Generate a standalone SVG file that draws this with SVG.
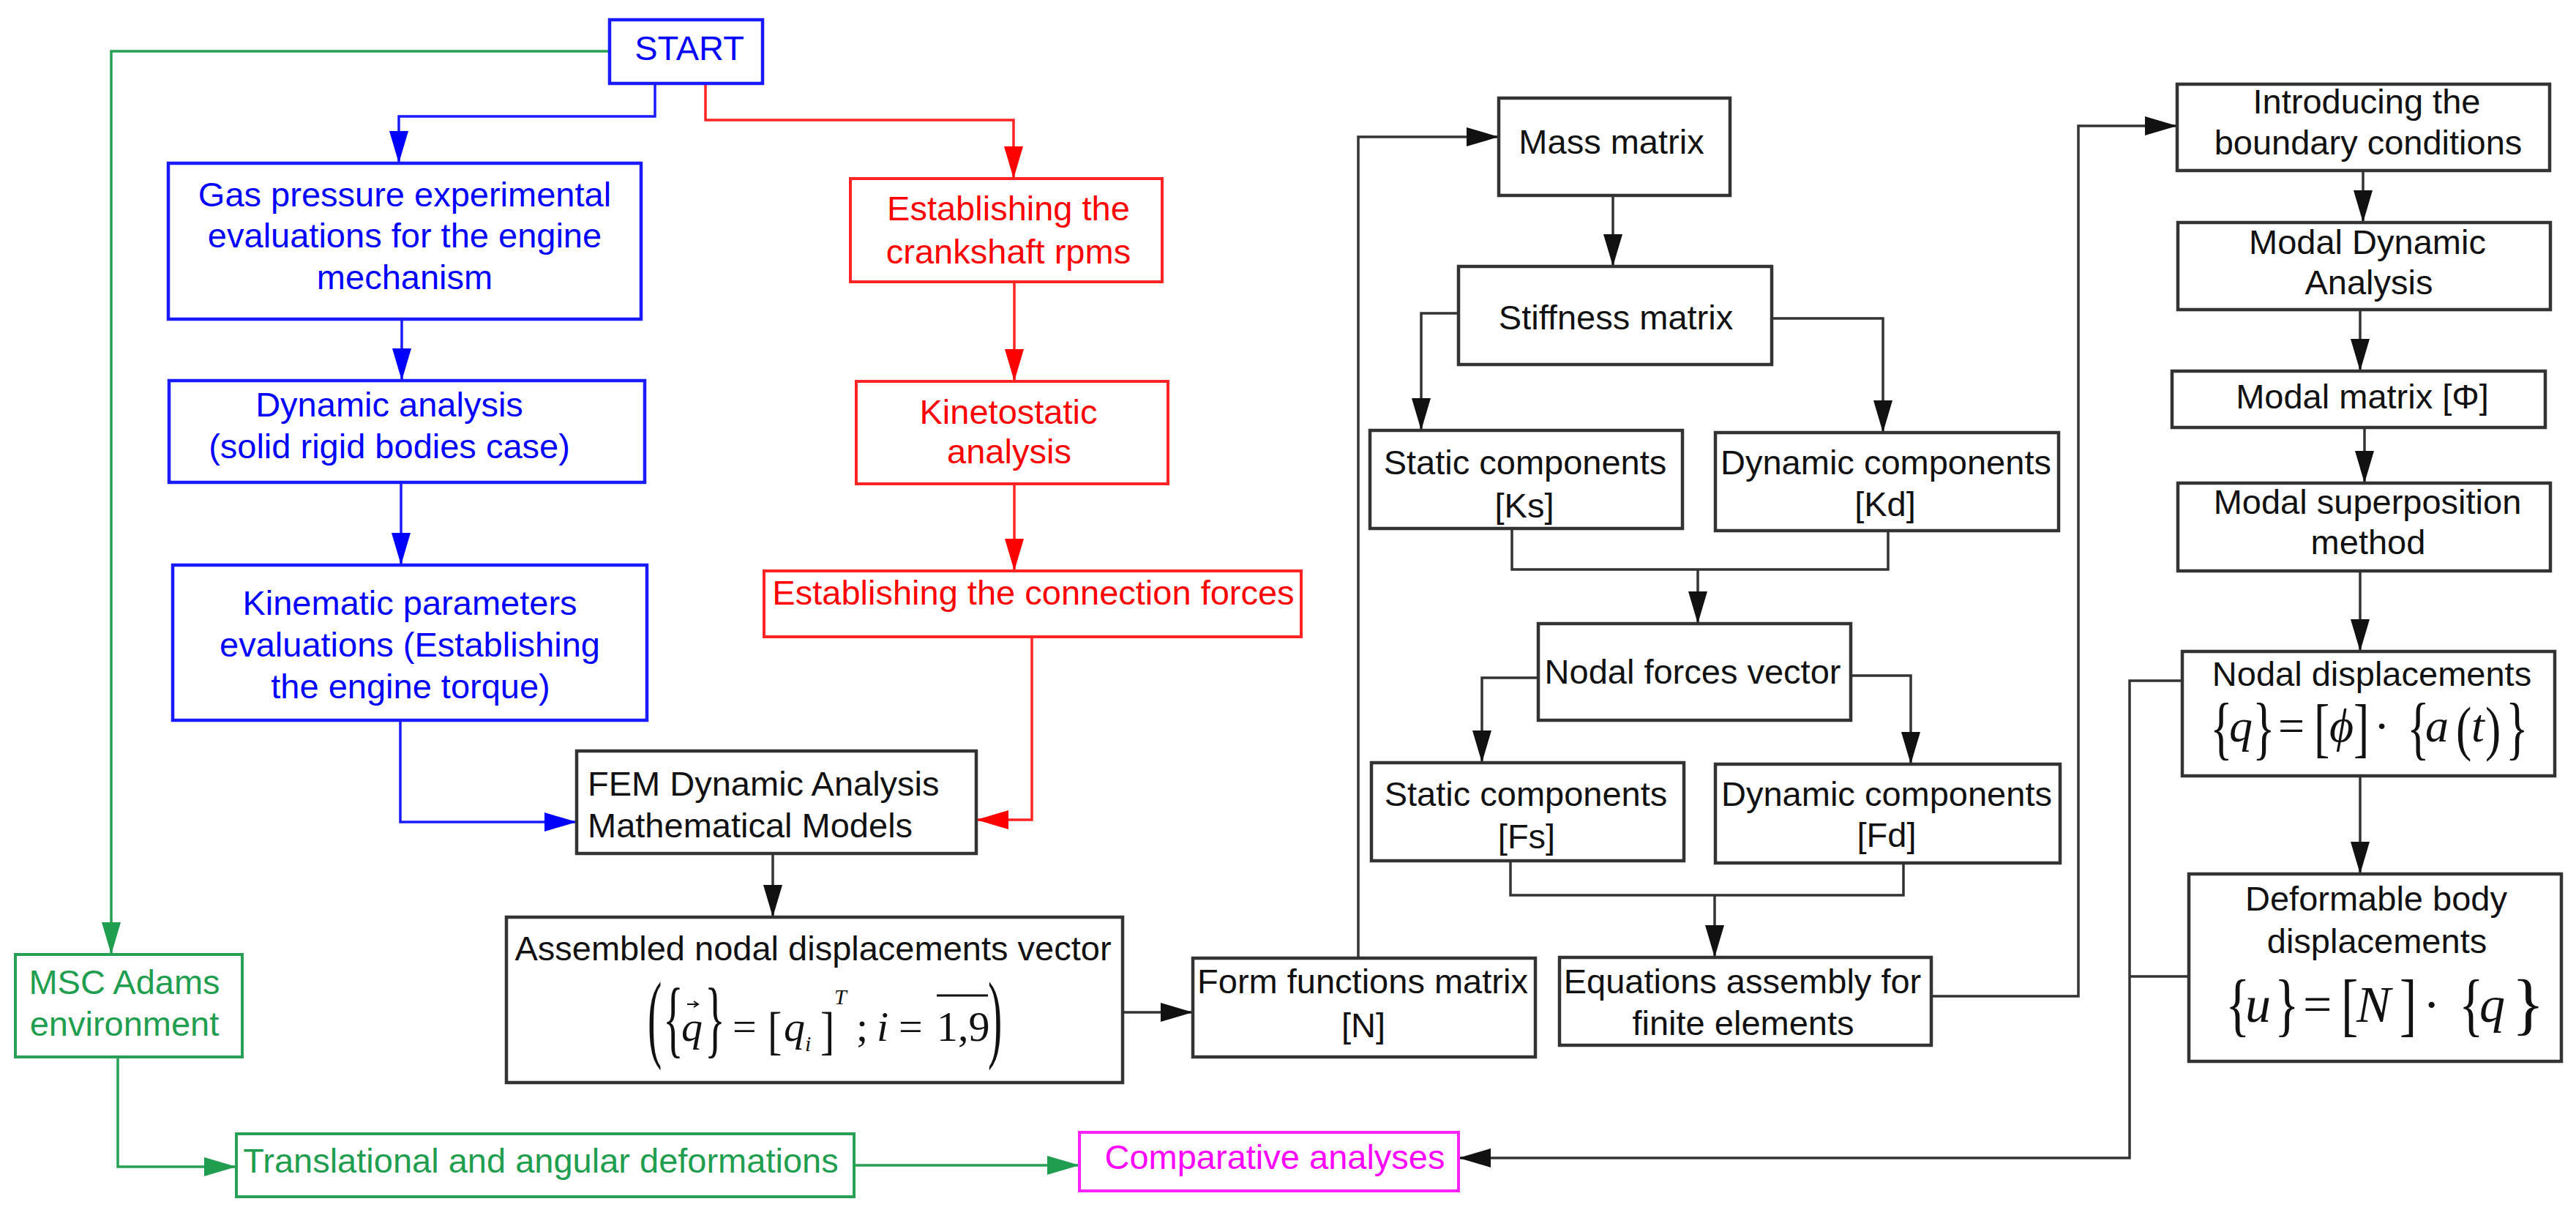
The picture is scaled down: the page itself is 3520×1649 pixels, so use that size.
<svg xmlns="http://www.w3.org/2000/svg" width="3520" height="1649" viewBox="0 0 3520 1649">
<defs>
<style>
.t{font-family:"Liberation Sans",Arial,sans-serif;font-size:47px;text-anchor:middle}
.tl{font-family:"Liberation Sans",Arial,sans-serif;font-size:47px;text-anchor:start}
.b{fill:#0000ff}.r{fill:#ff0000}.g{fill:#1f9e50}.m{fill:#ff00ff}.k{fill:#111}
.bb{fill:#fff;stroke:#1a1aff;stroke-width:4.5}
.rb{fill:#fff;stroke:#ff2424;stroke-width:4}
.gb{fill:#fff;stroke:#27a055;stroke-width:4}
.mb{fill:#fff;stroke:#ff22ff;stroke-width:4}
.kb{fill:#fff;stroke:#333;stroke-width:4.5}
.cb{fill:none;stroke:#1a1aff;stroke-width:3.5}
.cr{fill:none;stroke:#ff2424;stroke-width:3.5}
.cg{fill:none;stroke:#27a055;stroke-width:3.5}
.ck{fill:none;stroke:#333;stroke-width:3.5}
.f{font-family:"Liberation Serif","Times New Roman",serif;fill:#111}
.fi{font-family:"Liberation Serif","Times New Roman",serif;font-style:italic;fill:#111}
</style>
<marker id="ab" markerUnits="userSpaceOnUse" markerWidth="44" markerHeight="26" refX="44" refY="13" orient="auto"><path d="M0,0 L44,13 L0,26 Z" fill="#0000ff"/></marker>
<marker id="ar" markerUnits="userSpaceOnUse" markerWidth="44" markerHeight="26" refX="44" refY="13" orient="auto"><path d="M0,0 L44,13 L0,26 Z" fill="#ff0000"/></marker>
<marker id="ag" markerUnits="userSpaceOnUse" markerWidth="44" markerHeight="26" refX="44" refY="13" orient="auto"><path d="M0,0 L44,13 L0,26 Z" fill="#1f9e50"/></marker>
<marker id="ak" markerUnits="userSpaceOnUse" markerWidth="44" markerHeight="26" refX="44" refY="13" orient="auto"><path d="M0,0 L44,13 L0,26 Z" fill="#111"/></marker>
</defs>
<rect width="3520" height="1649" fill="#fff"/>

<g id="connectors">
<path class="cb" d="M895,114 V159 H545 V223" marker-end="url(#ab)"/>
<path class="cb" d="M549,436 V520" marker-end="url(#ab)"/>
<path class="cb" d="M548,659 V772" marker-end="url(#ab)"/>
<path class="cb" d="M547,984 V1123 H788" marker-end="url(#ab)"/>
<path class="cr" d="M964,114 V164 H1385 V244" marker-end="url(#ar)"/>
<path class="cr" d="M1386,385 V521" marker-end="url(#ar)"/>
<path class="cr" d="M1386,661 V780" marker-end="url(#ar)"/>
<path class="cr" d="M1410,870 V1120 H1334" marker-end="url(#ar)"/>
<path class="cg" d="M833,70 H152 V1304" marker-end="url(#ag)"/>
<path class="cg" d="M161,1444 V1594 H323" marker-end="url(#ag)"/>
<path class="cg" d="M1167,1592 H1475" marker-end="url(#ag)"/>
<path class="ck" d="M1056,1166 V1253" marker-end="url(#ak)"/>
<path class="ck" d="M1534,1383 H1630" marker-end="url(#ak)"/>
<path class="ck" d="M1856,1309 V187 H2048" marker-end="url(#ak)"/>
<path class="ck" d="M2204,267 V364" marker-end="url(#ak)"/>
<path class="ck" d="M1993,428 H1942 V588" marker-end="url(#ak)"/>
<path class="ck" d="M2421,435 H2573 V591" marker-end="url(#ak)"/>
<path class="ck" d="M2066,722 V778 H2580 V725"/>
<path class="ck" d="M2320,778 V852" marker-end="url(#ak)"/>
<path class="ck" d="M2102,926 H2025 V1042" marker-end="url(#ak)"/>
<path class="ck" d="M2529,923 H2611 V1044" marker-end="url(#ak)"/>
<path class="ck" d="M2064,1176 V1223 H2601 V1179"/>
<path class="ck" d="M2343,1223 V1308" marker-end="url(#ak)"/>
<path class="ck" d="M2639,1361 H2840 V172 H2975" marker-end="url(#ak)"/>
<path class="ck" d="M3229,233 V304" marker-end="url(#ak)"/>
<path class="ck" d="M3225,423 V507" marker-end="url(#ak)"/>
<path class="ck" d="M3231,584 V660" marker-end="url(#ak)"/>
<path class="ck" d="M3225,780 V890" marker-end="url(#ak)"/>
<path class="ck" d="M3225,1060 V1194" marker-end="url(#ak)"/>
<path class="ck" d="M2982,930 H2910 V1582 H1993" marker-end="url(#ak)"/>
<path class="ck" d="M2991,1334 H2910"/>
</g>

<g id="start"><rect class="bb" x="833" y="27" width="209" height="87"/><text class="t b" x="942" y="82">START</text></g>

<g id="gas"><rect class="bb" x="230" y="223" width="646" height="213"/>
<text class="t b" x="553" y="282">Gas pressure experimental</text>
<text class="t b" x="553" y="338">evaluations for the engine</text>
<text class="t b" x="553" y="395">mechanism</text></g>

<g id="dynamic"><rect class="bb" x="231" y="520" width="650" height="139"/>
<text class="t b" x="532" y="569">Dynamic analysis</text>
<text class="t b" x="532" y="626">(solid rigid bodies case)</text></g>

<g id="kinematic"><rect class="bb" x="236" y="772" width="648" height="212"/>
<text class="t b" x="560" y="840">Kinematic parameters</text>
<text class="t b" x="560" y="897">evaluations (Establishing</text>
<text class="t b" x="561" y="954">the engine torque)</text></g>

<g id="rpms"><rect class="rb" x="1162" y="244" width="426" height="141"/>
<text class="t r" x="1378" y="301">Establishing the</text>
<text class="t r" x="1378" y="360">crankshaft rpms</text></g>

<g id="kinetostatic"><rect class="rb" x="1170" y="521" width="426" height="140"/>
<text class="t r" x="1378" y="579">Kinetostatic</text>
<text class="t r" x="1379" y="633">analysis</text></g>

<g id="forces"><rect class="rb" x="1044" y="780" width="734" height="90"/>
<text class="t r" x="1412" y="826">Establishing the connection forces</text></g>

<g id="fem"><rect class="kb" x="788" y="1026" width="546" height="140"/>
<text class="tl k" x="803" y="1087">FEM Dynamic Analysis</text>
<text class="tl k" x="803" y="1144">Mathematical Models</text></g>

<g id="assembled"><rect class="kb" x="692" y="1253" width="842" height="226"/>
<text class="t k" x="1111" y="1312">Assembled nodal displacements vector</text>
<text class="f" font-size="58" transform="translate(885,1401) scale(1,2.3)" y="14.5">(</text>
<text class="f" font-size="58" transform="translate(906,1401) scale(1,2.0)" y="14.5">{</text>
<text class="fi" font-size="58" x="931" y="1422">q</text>
<path d="M939,1372 H953 M948,1368 L954,1372 L948,1376" fill="none" stroke="#111" stroke-width="2"/>
<text class="f" font-size="58" transform="translate(963,1401) scale(1,2.0)" y="14.5">}</text>
<text class="f" font-size="58" x="1001" y="1422">=</text>
<text class="f" font-size="58" transform="translate(1049,1414) scale(1,1.25)" y="14.5">[</text>
<text class="fi" font-size="58" x="1071" y="1422">q</text>
<text class="fi" font-size="30" x="1100" y="1436">i</text>
<text class="f" font-size="58" transform="translate(1121,1414) scale(1,1.25)" y="14.5">]</text>
<text class="fi" font-size="30" x="1140" y="1372">T</text>
<text class="f" font-size="58" x="1170" y="1422">;</text>
<text class="fi" font-size="58" x="1198" y="1422">i</text>
<text class="f" font-size="58" x="1228" y="1422">=</text>
<text class="f" font-size="58" x="1280" y="1422">1,9</text>
<path d="M1280,1360 H1350" stroke="#111" stroke-width="3"/>
<text class="f" font-size="58" transform="translate(1350,1401) scale(1,2.3)" y="14.5">)</text></g>

<g id="msc"><rect class="gb" x="21" y="1304" width="310" height="140"/>
<text class="t g" x="170" y="1358">MSC Adams</text>
<text class="t g" x="170" y="1415">environment</text></g>

<g id="translational"><rect class="gb" x="323" y="1549" width="844" height="86"/>
<text class="t g" x="739" y="1602">Translational and angular deformations</text></g>

<g id="comparative"><rect class="mb" x="1475" y="1547" width="518" height="80"/>
<text class="t m" x="1742" y="1597">Comparative analyses</text></g>

<g id="form"><rect class="kb" x="1630" y="1309" width="468" height="135"/>
<text class="t k" x="1862" y="1357">Form functions matrix</text>
<text class="t k" x="1863" y="1417">[N]</text></g>

<g id="mass"><rect class="kb" x="2048" y="134" width="316" height="133"/>
<text class="t k" x="2202" y="210">Mass matrix</text></g>

<g id="stiffness"><rect class="kb" x="1993" y="364" width="428" height="134"/>
<text class="t k" x="2208" y="450">Stiffness matrix</text></g>

<g id="ks"><rect class="kb" x="1872" y="588" width="427" height="134"/>
<text class="t k" x="2084" y="648">Static components</text>
<text class="t k" x="2083" y="707">[Ks]</text></g>

<g id="kd"><rect class="kb" x="2344" y="591" width="469" height="134"/>
<text class="t k" x="2577" y="648">Dynamic components</text>
<text class="t k" x="2576" y="705">[Kd]</text></g>

<g id="nodalforces"><rect class="kb" x="2102" y="852" width="427" height="132"/>
<text class="t k" x="2313" y="934">Nodal forces vector</text></g>

<g id="fs"><rect class="kb" x="1874" y="1042" width="427" height="134"/>
<text class="t k" x="2085" y="1101">Static components</text>
<text class="t k" x="2086" y="1159">[Fs]</text></g>

<g id="fd"><rect class="kb" x="2344" y="1044" width="471" height="135"/>
<text class="t k" x="2578" y="1101">Dynamic components</text>
<text class="t k" x="2578" y="1157">[Fd]</text></g>

<g id="equations"><rect class="kb" x="2131" y="1308" width="508" height="120"/>
<text class="t k" x="2381" y="1357">Equations assembly for</text>
<text class="t k" x="2382" y="1414">finite elements</text></g>

<g id="boundary"><rect class="kb" x="2975" y="115" width="509" height="118"/>
<text class="t k" x="3234" y="155">Introducing the</text>
<text class="t k" x="3236" y="211">boundary conditions</text></g>

<g id="modaldynamic"><rect class="kb" x="2976" y="304" width="509" height="119"/>
<text class="t k" x="3235" y="347">Modal Dynamic</text>
<text class="t k" x="3237" y="402">Analysis</text></g>

<g id="modalmatrix"><rect class="kb" x="2968" y="507" width="510" height="77"/>
<text class="t k" x="3228" y="558">Modal matrix [Φ]</text></g>

<g id="superposition"><rect class="kb" x="2976" y="660" width="509" height="120"/>
<text class="t k" x="3235" y="702">Modal superposition</text>
<text class="t k" x="3236" y="757">method</text></g>

<g id="nodaldisp"><rect class="kb" x="2982" y="890" width="509" height="170"/>
<text class="t k" x="3241" y="937">Nodal displacements</text>
<text class="f" font-size="64" transform="translate(3020,1002) scale(1,1.5)" y="16">{</text>
<text class="fi" font-size="64" x="3046" y="1013">q</text>
<text class="f" font-size="64" transform="translate(3078,1002) scale(1,1.5)" y="16">}</text>
<text class="f" font-size="64" x="3113" y="1013">=</text>
<text class="f" font-size="64" transform="translate(3162,1002) scale(1,1.4)" y="16">[</text>
<text class="fi" font-size="64" x="3183" y="1013">ϕ</text>
<text class="f" font-size="64" transform="translate(3216,1002) scale(1,1.4)" y="16">]</text>
<text class="f" font-size="64" x="3244" y="1013">·</text>
<text class="f" font-size="64" transform="translate(3289,1002) scale(1,1.5)" y="16">{</text>
<text class="fi" font-size="64" x="3314" y="1013">a</text>
<text class="f" font-size="64" transform="translate(3356,1002) scale(1,1.3)" y="16">(</text>
<text class="fi" font-size="64" x="3377" y="1013">t</text>
<text class="f" font-size="64" transform="translate(3396,1002) scale(1,1.3)" y="16">)</text>
<text class="f" font-size="64" transform="translate(3424,1002) scale(1,1.5)" y="16">}</text></g>

<g id="deformable"><rect class="kb" x="2991" y="1194" width="509" height="256"/>
<text class="t k" x="3247" y="1244">Deformable body</text>
<text class="t k" x="3248" y="1302">displacements</text>
<text class="f" font-size="70" transform="translate(3041,1380) scale(1,1.35)" y="17.5">{</text>
<text class="fi" font-size="70" x="3068" y="1396">u</text>
<text class="f" font-size="70" transform="translate(3108,1380) scale(1,1.35)" y="17.5">}</text>
<text class="f" font-size="70" x="3147" y="1396">=</text>
<text class="f" font-size="70" transform="translate(3199,1380) scale(1,1.35)" y="17.5">[</text>
<text class="fi" font-size="70" x="3220" y="1396">N</text>
<text class="f" font-size="70" transform="translate(3279,1380) scale(1,1.35)" y="17.5">]</text>
<text class="f" font-size="70" x="3311" y="1396">·</text>
<text class="f" font-size="70" transform="translate(3360,1380) scale(1,1.35)" y="17.5">{</text>
<text class="fi" font-size="70" x="3388" y="1396">q</text>
<text class="f" font-size="94" x="3432" y="1403">}</text></g>
</svg>
